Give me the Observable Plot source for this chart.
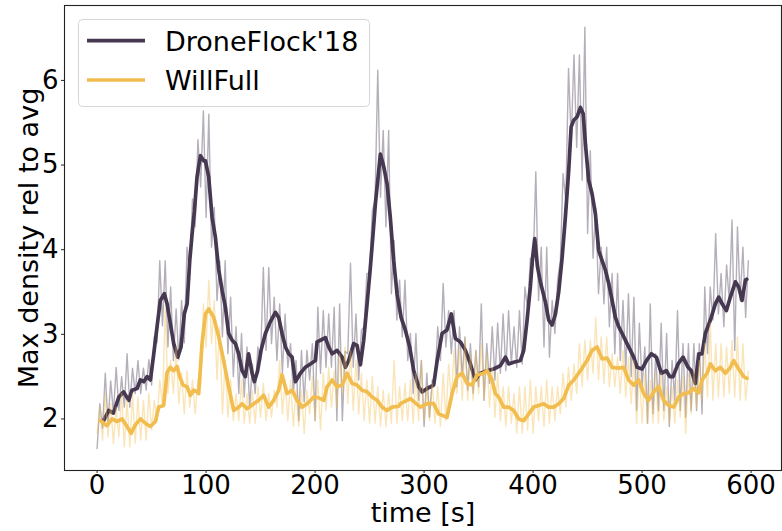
<!DOCTYPE html>
<html><head><meta charset="utf-8">
<script src="https://cdn.jsdelivr.net/npm/d3@7"></script>
<script src="https://cdn.jsdelivr.net/npm/@observablehq/plot@0.6"></script>
<style>body{margin:0;background:#fff}#chart{position:relative;width:782px;height:531px}</style>
</head><body><div id="chart"></div>
<script>
const seriesNames = ["DroneFlock'18", "WillFull"];
const seriesColors = ["#453850", "#f2bd4f"];
const xTicks = [0, 100, 200, 300, 400, 500, 600];
const yTicks = [2, 3, 4, 5, 6];
const xLabel = "time [s]";
const yLabel = "Max density rel to avg";

// raw (noisy) series, read as low/high extent per 5 s bin starting at t = 0
const droneRawLo = [1.65,1.89,1.95,2.06,2.10,2.14,2.14,2.30,2.30,2.34,2.40,2.90,3.10,2.85,2.69,2.70,2.90,3.70,4.27,4.74,
4.38,4.03,3.40,2.97,2.77,2.50,2.30,2.26,2.14,2.30,2.69,2.81,2.89,2.69,2.54,2.61,2.30,1.98,2.20,2.46,
1.98,2.54,2.61,2.61,1.98,1.98,2.77,2.61,2.46,3.09,3.72,4.58,4.62,4.27,3.48,3.17,2.97,2.69,2.30,2.22,
1.91,2.02,2.46,2.69,2.85,2.77,2.38,2.50,2.34,2.30,2.38,2.22,2.42,2.46,2.54,2.57,2.65,2.61,2.65,3.30,
3.80,3.40,2.85,2.73,3.01,3.87,4.58,5.29,5.21,4.82,4.19,3.90,3.48,3.36,3.09,2.77,2.69,2.57,2.50,2.10,
2.38,1.95,2.06,2.10,2.10,1.91,2.22,2.10,2.02,2.10,2.10,2.06,2.77,3.17,3.24,3.09,3.40,2.81,3.40,3.20];
const droneRawHi = [2.18,2.54,2.45,2.61,2.50,2.77,2.60,2.69,2.60,2.70,2.97,3.87,3.87,3.56,3.30,3.40,4.03,4.60,5.30,5.64,
5.60,4.50,3.87,3.87,3.44,3.09,3.01,2.85,2.65,2.85,3.79,3.79,3.44,3.36,3.24,2.89,2.69,2.81,2.81,2.89,
3.32,3.28,3.24,3.32,3.36,2.80,3.84,3.24,3.05,3.72,4.46,6.12,5.41,5.41,4.11,3.64,3.64,3.01,3.01,2.69,
2.54,2.46,3.09,3.60,3.28,3.28,3.09,2.97,2.89,2.81,3.36,2.89,3.09,3.13,3.24,3.28,3.09,3.28,3.56,3.90,
4.92,4.03,4.03,3.40,3.64,4.90,6.14,6.30,6.30,6.63,5.17,4.50,4.03,4.03,3.72,3.72,3.40,3.48,3.44,3.13,
2.85,3.36,2.77,3.13,3.01,2.69,3.28,2.89,2.89,2.89,2.89,3.56,3.56,4.19,3.72,3.82,4.35,4.27,4.03,3.87];
const willRawLo = [1.83,1.75,1.79,1.71,1.79,1.67,1.67,1.71,1.75,1.75,1.87,1.98,2.14,2.30,2.30,2.18,2.06,2.14,2.06,2.40,
2.85,2.89,2.46,2.06,2.02,1.98,1.98,1.95,1.95,1.95,2.02,1.98,2.02,2.14,2.06,1.98,1.91,1.91,1.83,2.06,
1.98,1.87,2.10,2.14,2.14,2.30,2.18,2.10,2.06,1.98,1.95,1.95,1.91,1.91,1.95,1.95,1.98,1.98,1.95,1.98,
1.98,1.98,1.95,1.91,1.98,2.22,2.30,2.22,2.22,2.22,2.30,2.22,2.14,2.02,1.98,1.91,1.95,1.83,1.83,1.87,
1.83,1.98,1.91,1.95,1.98,2.06,2.14,2.22,2.30,2.38,2.46,2.54,2.46,2.42,2.38,2.38,2.30,2.26,2.18,1.95,
1.95,1.95,1.95,1.95,1.98,1.95,1.95,2.02,1.83,2.06,2.14,2.22,2.26,2.22,2.26,2.26,2.30,2.26,2.22,2.22];
const willRawHi = [2.14,2.30,2.18,2.14,2.30,2.22,2.30,2.26,2.22,2.30,2.22,2.46,3.32,2.69,2.85,2.54,2.57,2.46,2.46,3.36,
3.64,3.40,3.09,2.69,2.46,2.30,2.46,2.30,2.34,2.38,2.42,2.30,2.34,2.69,2.46,2.46,2.34,2.34,2.34,2.50,
2.46,2.54,2.61,2.57,2.77,2.85,2.81,2.69,2.54,2.46,2.50,2.38,2.34,2.30,2.69,2.38,2.42,2.46,2.54,2.69,
2.38,2.42,2.38,2.54,2.65,2.81,2.85,2.95,2.77,2.81,2.89,2.77,2.61,2.54,2.38,2.38,2.30,2.38,2.38,2.46,
2.38,2.38,2.46,2.38,2.38,2.54,2.61,2.65,2.89,2.93,2.93,3.20,2.97,2.97,2.77,2.73,2.81,2.73,2.69,2.57,
2.54,2.46,2.54,2.54,2.38,2.38,2.46,2.50,2.54,2.57,2.69,2.89,3.13,2.89,2.89,2.85,2.93,2.97,2.89,2.57];

// smoothed series: [time, value]
const droneSmooth = [[6,1.98],[10.6,2.10],[15,2.07],[20,2.26],[24.4,2.32],[29,2.22],[32,2.34],[36.7,2.36],[39.7,2.46],[42.8,2.44],[45.9,2.50],[48.9,2.46],[52,2.77],[55,3.09],[58,3.40],[61.7,3.48],[64.2,3.36],[67.2,3.13],[70.3,2.89],[74,2.73],[77,2.85],[80,3.24],[82.6,3.36],[85,3.87],[87.2,4.19],[89.3,4.46],[91.7,4.86],[94.8,5.11],[97.8,5.05],[99.4,5.05],[102.4,4.86],[105.5,4.38],[108.5,4.15],[111.6,3.76],[114.7,3.52],[117.7,3.32],[120.7,3.01],[123.9,2.93],[126.9,2.89],[129.9,2.77],[133,2.57],[136,2.50],[139,2.77],[142.2,2.54],[144.3,2.44],[147.3,2.57],[150.4,2.81],[154.4,3.01],[159,3.15],[163.6,3.26],[166.6,3.20],[169.7,3.01],[172.8,2.85],[175.8,2.77],[178.9,2.73],[181.9,2.44],[186.5,2.54],[191,2.61],[195.7,2.65],[200.3,2.69],[201.8,2.91],[204.9,2.93],[209.5,2.96],[212.5,2.85],[215.6,2.77],[220.2,2.81],[224.8,2.73],[227.8,2.61],[230.8,2.69],[235.4,2.89],[238.5,2.87],[241.6,2.64],[244.6,2.93],[247.7,3.36],[250.7,3.79],[253.2,4.19],[255.3,4.54],[257.8,4.86],[259.9,5.13],[263,4.98],[266,4.78],[269,4.38],[272.1,3.87],[275.2,3.48],[278.9,3.20],[282.8,3.05],[286.8,2.85],[290.5,2.57],[295,2.38],[298.2,2.32],[302.8,2.36],[308.8,2.40],[312,2.69],[316.5,3.01],[321,3.05],[325,3.24],[328.7,2.95],[333.3,2.91],[337.9,2.81],[342.5,2.65],[347,2.46],[351.6,2.54],[357.8,2.57],[363.9,2.59],[370,2.63],[374.6,2.73],[377.6,2.65],[382.2,2.67],[388.3,2.69],[391.4,2.81],[394.5,3.17],[397.5,3.56],[399.5,3.90],[401.5,4.13],[404,3.80],[406.7,3.62],[411.3,3.38],[414.3,3.17],[417.4,3.11],[420.5,3.24],[423.5,3.50],[426.6,3.90],[429.6,4.38],[432.7,4.94],[434.9,5.45],[437.3,5.53],[440.4,5.57],[443.4,5.68],[445.9,5.61],[448,5.25],[451,4.82],[454.1,4.66],[457.2,4.42],[460.2,3.99],[463.3,3.87],[466.3,3.76],[469.4,3.60],[472.5,3.40],[475.5,3.20],[478.5,3.09],[481.7,3.01],[486.2,2.89],[489.3,2.81],[492.3,2.73],[495.4,2.61],[500,2.59],[504,2.69],[508.5,2.77],[513.1,2.73],[517.7,2.54],[522.3,2.57],[525.4,2.50],[528.4,2.50],[533,2.65],[537.6,2.73],[542.2,2.61],[545.2,2.57],[548.9,2.42],[552,2.77],[555,2.77],[558,3.01],[562.7,3.17],[567.2,3.36],[570.3,3.44],[573.4,3.36],[577.3,3.28],[581,3.44],[585.6,3.62],[588.6,3.56],[591.7,3.40],[594.8,3.64],[596,3.65]];
const willSmooth = [[3,1.98],[9,1.92],[13.8,2.00],[18.3,1.97],[22.9,2.00],[27.5,1.91],[31.2,1.83],[35.1,1.93],[39.7,2.00],[44.3,1.95],[48.9,1.91],[53.5,1.97],[56.5,2.14],[61.1,2.16],[64.2,2.55],[67.2,2.61],[70.3,2.57],[73.4,2.62],[75.8,2.50],[78.9,2.40],[82.6,2.38],[85.6,2.28],[88.6,2.34],[91.7,2.32],[93.2,2.30],[96.3,2.89],[99.4,3.24],[102.4,3.30],[107,3.20],[111.6,2.97],[116.1,2.69],[120.7,2.38],[125.3,2.10],[129.9,2.14],[133,2.18],[137.6,2.12],[143.7,2.18],[148.3,2.22],[152.8,2.28],[157.4,2.14],[162,2.22],[166.6,2.34],[169.7,2.52],[174.3,2.30],[178.9,2.34],[183.5,2.22],[188,2.14],[192.7,2.18],[198.7,2.26],[203.3,2.25],[208,2.22],[211,2.38],[215.6,2.46],[220.2,2.38],[224.8,2.40],[229.4,2.54],[234,2.42],[238.5,2.40],[243.1,2.34],[247.7,2.32],[252.3,2.26],[256.9,2.22],[261.5,2.14],[266,2.10],[270.6,2.14],[276.7,2.15],[278.3,2.18],[287.4,2.24],[296.6,2.14],[302.8,2.18],[308.8,2.18],[313.4,2.06],[321,2.02],[325.7,2.30],[330.3,2.50],[334.9,2.54],[339.4,2.42],[344,2.40],[348.6,2.52],[354.7,2.54],[357.8,2.57],[362.4,2.46],[365.4,2.30],[368.4,2.26],[373,2.14],[377.6,2.14],[382.2,2.10],[386.8,2.00],[391.4,1.98],[396,2.06],[400.5,2.14],[405.1,2.16],[409.7,2.18],[414.3,2.14],[418.9,2.14],[423.5,2.18],[428,2.24],[432.7,2.40],[437.3,2.46],[443.4,2.57],[449.5,2.69],[454.1,2.81],[458.7,2.85],[463.3,2.71],[467.9,2.72],[472.5,2.61],[478.5,2.60],[483.1,2.61],[487.7,2.46],[492.3,2.40],[496.9,2.46],[501.5,2.30],[506,2.22],[510.6,2.32],[515.2,2.38],[519.8,2.22],[524.4,2.16],[529,2.14],[533.6,2.26],[538.2,2.30],[542.7,2.31],[547.3,2.36],[551.9,2.31],[555,2.46],[559.6,2.54],[562.7,2.65],[567.2,2.57],[571.8,2.61],[576.4,2.54],[581,2.61],[584,2.69],[588.6,2.59],[593.2,2.50],[596.3,2.48]];

const binStep = 5;
function zigzag(lo, hi) {
  const pts = [];
  lo.forEach((v, i) => {
    pts.push({t: i * binStep, v: v});
    pts.push({t: i * binStep + binStep / 2, v: hi[i]});
  });
  return pts;
}
const toObj = a => a.map(([t, v]) => ({t, v}));

const font = "DejaVu Sans";
const plot = Plot.plot({
  width: 782, height: 531,
  marginLeft: 64, marginRight: 1, marginTop: 5, marginBottom: 61,
  style: {fontFamily: font, fontSize: "26px", background: "#fff", color: "#000"},
  x: {domain: [-29.9, 627.9]},
  y: {domain: [1.391, 6.885]},
  marks: [
    Plot.line(zigzag(droneRawLo, droneRawHi), {x: "t", y: "v", stroke: seriesColors[0], strokeOpacity: 0.4, strokeWidth: 1.4}),
    Plot.line(toObj(droneSmooth), {x: "t", y: "v", stroke: seriesColors[0], strokeWidth: 3.7}),
    Plot.line(zigzag(willRawLo, willRawHi), {x: "t", y: "v", stroke: seriesColors[1], strokeOpacity: 0.4, strokeWidth: 1.4}),
    Plot.line(toObj(willSmooth), {x: "t", y: "v", stroke: seriesColors[1], strokeWidth: 3.7}),
    Plot.frame({stroke: "#222", strokeWidth: 1.1}),
    Plot.axisX({ticks: xTicks, tickFormat: d3.format("d"), tickSize: 3, tickPadding: 2, label: null, fontSize: 26, stroke: "#222"}),
    Plot.axisY({ticks: yTicks, tickFormat: d3.format("d"), tickSize: 3, tickPadding: 3, label: null, fontSize: 26, stroke: "#222"}),
    Plot.text([xLabel], {text: d => d, frameAnchor: "bottom", dy: 43, fontSize: 27, lineAnchor: "middle", fill: "#000"}),
    Plot.text([yLabel], {text: d => d, frameAnchor: "left", dx: -35, rotate: -90, fontSize: 27, lineAnchor: "middle", textAnchor: "middle", fill: "#000"})
  ]
});
document.getElementById("chart").appendChild(plot);

// legend inside the axes (upper left)
const svg = d3.select(plot);
const lg = svg.append("g").attr("font-family", font).attr("font-size", 27).attr("text-anchor", "start");
lg.append("rect").attr("x", 78.5).attr("y", 19.5).attr("width", 291).attr("height", 87).attr("rx", 4)
  .attr("fill", "#fff").attr("fill-opacity", 0.8).attr("stroke", "#d6d6d6");
seriesNames.forEach((name, i) => {
  const cy = 40.7 + i * 39.3;
  lg.append("line").attr("x1", 87).attr("x2", 145).attr("y1", cy).attr("y2", cy)
    .attr("stroke", seriesColors[i]).attr("stroke-width", 3.7);
  lg.append("text").attr("x", 165).attr("y", cy + 10.3).attr("fill", "#000")
    .attr("text-anchor", "start").style("font-size", "27px").text(name);
});
</script>
</body></html>
